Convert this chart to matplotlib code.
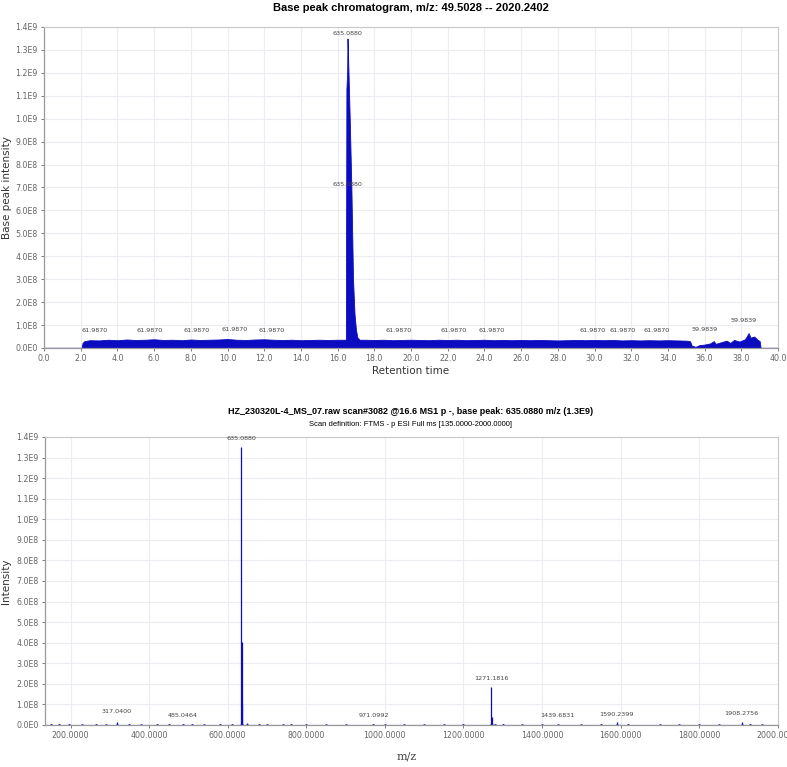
#!/usr/bin/env python3
import matplotlib
matplotlib.use("Agg")
import matplotlib.pyplot as plt

# --- chromatogram (top) ---
rt = [0.0, 2.05, 2.1, 2.2, 2.5, 3.0, 3.5, 4.0, 4.5, 5.0, 5.5, 6.0, 6.5, 7.0, 7.5,
      8.0, 8.5, 9.0, 9.5, 10.0, 10.5, 11.0, 11.5, 12.0, 12.5, 13.0, 13.5, 14.0,
      14.5, 15.0, 15.5, 16.0, 16.45, 16.46, 16.48, 16.52, 16.54, 16.57, 16.61,
      16.66, 16.75, 16.84, 16.92, 17.0, 17.08, 17.2, 17.5, 18.0, 18.5, 19.0, 19.5,
      20.0, 20.5, 21.0, 21.5, 22.0, 22.5, 23.0, 23.5, 24.0, 24.5, 25.0, 25.5,
      26.0, 26.5, 27.0, 27.5, 28.0, 28.5, 29.0, 29.5, 30.0, 30.5, 31.0, 31.5,
      32.0, 32.5, 33.0, 33.5, 34.0, 34.5, 35.0, 35.2, 35.3, 35.5, 35.7, 36.0,
      36.3, 36.5, 36.6, 36.9, 37.2, 37.4, 37.6, 37.9, 38.2, 38.4, 38.5, 38.7,
      38.9, 39.0, 39.05, 40.0]
bpi = [1.0e6, 1.0e6, 2.2e7, 3.0e7, 3.4e7, 3.3e7, 3.6e7, 3.4e7, 3.7e7, 3.5e7,
       3.6e7, 3.8e7, 3.5e7, 3.6e7, 3.4e7, 3.7e7, 3.5e7, 3.6e7, 3.7e7, 3.9e7,
       3.6e7, 3.5e7, 3.7e7, 3.8e7, 3.6e7, 3.5e7, 3.6e7, 3.4e7, 3.5e7, 3.6e7,
       3.5e7, 3.6e7, 3.6e7, 4.0e8, 1.13e9, 1.2e9, 1.35e9, 1.27e9, 1.15e9,
       1.0e9, 7.0e8, 3.0e8, 1.5e8, 8.0e7, 4.5e7, 3.6e7, 3.6e7, 3.5e7, 3.6e7, 3.4e7,
       3.5e7, 3.6e7, 3.5e7, 3.4e7, 3.6e7, 3.5e7, 3.6e7, 3.4e7, 3.5e7, 3.6e7,
       3.4e7, 3.5e7, 3.4e7, 3.5e7, 3.4e7, 3.5e7, 3.4e7, 3.3e7, 3.4e7, 3.5e7,
       3.4e7, 3.5e7, 3.4e7, 3.5e7, 3.3e7, 3.4e7, 3.3e7, 3.4e7, 3.3e7, 3.4e7,
       3.3e7, 3.2e7, 3.0e7, 1.0e7, 5.0e6, 1.2e7, 1.5e7, 2.0e7, 3.0e7, 1.8e7,
       2.5e7, 3.2e7, 2.2e7, 3.5e7, 2.8e7, 3.8e7, 6.5e7, 4.5e7, 5.0e7, 3.5e7,
       3.0e7, 1.0e6, 1.0e6]

rt_labels = [2.78, 5.78, 8.33, 10.4, 12.4, 19.3, 22.3, 24.4, 29.9, 31.55, 33.4, 36.0, 38.1]
rt_label_y = [6.7e7, 6.7e7, 6.7e7, 6.9e7, 6.7e7, 6.7e7, 6.7e7, 6.7e7, 6.7e7, 6.7e7, 6.5e7, 7.1e7, 1.09e8]
rt_label_txt = ["61.9870"] * 11 + ["59.9839"] * 2

top_xticks = [2.0 * i for i in range(21)]
top_xlabels = [f"{v:.1f}" for v in top_xticks]
yticks = [i * 1e8 for i in range(15)]
ylabels = ["0.0E0", "1.0E8", "2.0E8", "3.0E8", "4.0E8", "5.0E8", "6.0E8", "7.0E8",
           "8.0E8", "9.0E8", "1.0E9", "1.1E9", "1.2E9", "1.3E9", "1.4E9"]

# --- mass spectrum (bottom) ---
mz = [150.0, 170.0, 195.0, 230.0, 265.0, 290.0, 317.04, 350.0, 380.0, 420.0,
      450.0, 485.05, 510.0, 540.0, 580.0, 610.0, 635.088, 636.091, 637.09,
      650.0, 680.0, 700.0, 740.0, 760.0, 800.0, 850.0, 900.0, 971.10, 1000.0,
      1050.0, 1100.0, 1150.0, 1200.0, 1271.18, 1272.18, 1280.0, 1300.0,
      1350.0, 1400.0, 1439.68, 1500.0, 1550.0, 1590.24, 1620.0, 1700.0,
      1750.0, 1800.0, 1850.0, 1908.28, 1930.0, 1960.0]
inten = [3e6, 4e6, 3e6, 2e6, 3e6, 2e6, 1.6e7, 3e6, 2e6, 3e6,
         3e6, 4e6, 3e6, 2e6, 3e6, 4e6, 1.35e9, 4.05e8, 1.0e8,
         8e6, 3e6, 2e6, 2e6, 3e6, 2e6, 2e6, 2e6, 3e6, 2e6,
         2e6, 2e6, 2e6, 3e6, 1.85e8, 4.0e7, 5e6, 4e6,
         2e6, 2e6, 2e6, 2e6, 3e6, 1.2e7, 3e6, 2e6,
         2e6, 2e6, 2e6, 1.2e7, 3e6, 2e6]

mz_labels = [317.04, 485.0464, 635.088, 971.0992, 1271.1816, 1439.6831, 1590.2399, 1908.2756]
mz_label_y = [5.3e7, 3.4e7, 1.38e9, 3.4e7, 2.15e8, 3.4e7, 4.0e7, 4.3e7]
mz_label_txt = ["317.0400", "485.0464", "635.0880", "971.0992", "1271.1816",
                "1439.6831", "1590.2399", "1908.2756"]

bot_xticks = [200.0 * i for i in range(1, 11)]
bot_xlabels = [f"{v:.4f}" for v in bot_xticks]

BLUE = "#0b0bbf"
TICK = "#666666"
GRID = "#ececf2"


def style(ax):
    ax.set_facecolor("white")
    ax.grid(True, color=GRID, linewidth=0.8)
    ax.set_axisbelow(True)
    for s in ["top", "right"]:
        ax.spines[s].set_color("#c8c8c8")
        ax.spines[s].set_linewidth(0.8)
    for s in ["left", "bottom"]:
        ax.spines[s].set_color("#9a9a9a")
        ax.spines[s].set_linewidth(0.9)
    ax.tick_params(colors=TICK, labelsize=5.7, length=2, width=0.6, pad=2.5)
    ax.set_yticks(yticks)
    ax.set_yticklabels(ylabels)
    ax.set_ylim(0, 1.4e9)


def main():
    plt.rcParams["font.family"] = ["DejaVu Sans"]
    fig = plt.figure(figsize=(7.87, 7.67), dpi=100)

    ax1 = fig.add_axes([0.0559, 0.5463, 0.9327, 0.4185])
    style(ax1)
    ax1.fill_between(rt, bpi, 0, color=BLUE, linewidth=0.6, edgecolor=BLUE)
    ax1.set_xlim(0, 40)
    ax1.set_xticks(top_xticks)
    ax1.set_xticklabels(top_xlabels)
    for x, y, t in zip(rt_labels, rt_label_y, rt_label_txt):
        ax1.text(x, y, t, fontsize=4.6, color="#444444", ha="center", va="bottom")
    ax1.text(16.55, 1.36e9, "635.0880", fontsize=4.6, color="#444444", ha="center", va="bottom")
    ax1.text(16.55, 7.0e8, "635.0880", fontsize=4.6, color="#444444", ha="center", va="bottom")
    ax1.set_xlabel("Retention time", fontsize=7.5, color="#333333", labelpad=2)
    ax1.set_ylabel("Base peak intensity", fontsize=7.5, color="#333333")
    ax1.yaxis.set_label_coords(-0.044, 0.5)
    fig.text(0.522, 0.99, "Base peak chromatogram, m/z: 49.5028 -- 2020.2402",
             fontsize=8, fontweight="bold", family="Liberation Sans", ha="center", va="center")

    ax2 = fig.add_axes([0.0572, 0.0548, 0.931, 0.3755])
    style(ax2)
    ax2.vlines(mz, 0, inten, color=BLUE, linewidth=0.9)
    ax2.plot(mz, [2e6] * len(mz), "s", color=BLUE, markersize=0.8)
    ax2.axhline(1.5e6, color="#3a3ad0", linewidth=0.8)
    ax2.set_xlim(135, 2000)
    ax2.set_xticks(bot_xticks)
    ax2.set_xticklabels(bot_xlabels)
    for x, y, t in zip(mz_labels, mz_label_y, mz_label_txt):
        ax2.text(x, y, t, fontsize=4.6, color="#444444", ha="center", va="bottom")
    ax2.set_ylabel("Intensity", fontsize=7.5, color="#333333")
    ax2.yaxis.set_label_coords(-0.046, 0.5)
    fig.text(0.517, 0.014, "m/z", fontsize=8, family="DejaVu Serif", color="#444444",
             ha="center", va="center")
    fig.text(0.522, 0.463,
             "HZ_230320L-4_MS_07.raw scan#3082 @16.6 MS1 p -, base peak: 635.0880 m/z (1.3E9)",
             fontsize=6.5, fontweight="bold", family="Liberation Sans", ha="center", va="center")
    fig.text(0.522, 0.447, "Scan definition: FTMS - p ESI Full ms [135.0000-2000.0000]",
             fontsize=5.5, family="Liberation Sans", ha="center", va="center")

    fig.savefig("out.png", dpi=100)
    plt.close(fig)


if __name__ == "__main__":
    main()
